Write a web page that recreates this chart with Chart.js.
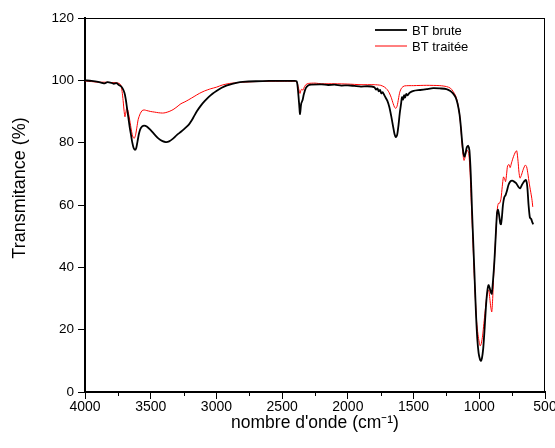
<!DOCTYPE html>
<html>
<head>
<meta charset="utf-8">
<script src="https://cdn.jsdelivr.net/npm/chart.js@4/dist/chart.umd.min.js"></script>
<style>
  html, body { margin: 0; padding: 0; background: #fff; }
  #wrap { width: 555px; height: 448px; }
</style>
</head>
<body>
<div id="wrap"><canvas id="c" width="555" height="448"></canvas></div>
<script>
// ---- data ----
const seriesNames = ["BT brute", "BT traitée"];
const xTitle = "nombre d'onde (cm\u207B\u00B9)";
const yTitle = "Transmitance (%)";

const bruteWn = [4000,3950,3900,3870,3850,3830,3800,3780,3760,3745,3730,3715,3700,3690,3680,3670,3660,3650,3640,3630,3620,3610,3600,3590,3580,3565,3550,3530,3500,3470,3440,3410,3385,3360,3330,3300,3270,3240,3210,3190,3170,3150,3120,3090,3060,3030,3000,2960,2920,2880,2840,2800,2700,2600,2500,2420,2390,2380,2370,2364,2355,2345,2335,2320,2300,2280,2200,2150,2100,2050,2000,1950,1900,1850,1800,1785,1775,1765,1755,1745,1735,1720,1700,1685,1670,1655,1645,1635,1625,1615,1605,1595,1588,1580,1572,1565,1555,1545,1530,1500,1450,1400,1350,1300,1250,1220,1200,1180,1165,1150,1140,1130,1120,1112,1105,1095,1085,1075,1065,1055,1045,1035,1025,1015,1005,995,988,980,970,960,950,940,930,922,912,905,895,885,875,865,858,850,840,835,828,820,810,800,790,778,765,750,735,720,705,690,675,660,645,635,625,615,605,597,590];
const bruteT  = [100.0,99.8,99.5,99.2,99.0,99.4,99.2,98.9,99.1,98.6,98.2,97.5,96.0,94.0,91.0,88.0,85.0,82.5,80.0,78.3,77.7,78.3,80.5,82.8,84.3,85.2,85.5,85.2,84.0,82.6,81.3,80.5,80.2,80.4,81.3,82.5,83.5,84.6,85.8,87.0,88.5,90.0,91.8,93.3,94.6,95.7,96.6,97.6,98.4,98.9,99.3,99.5,99.7,99.8,99.8,99.8,99.7,97.0,92.0,89.2,92.5,93.6,95.5,97.5,98.4,98.6,98.7,98.5,98.6,98.3,98.4,98.2,98.0,98.1,97.8,97.0,97.4,96.5,96.9,95.8,96.2,95.0,93.5,91.5,88.5,85.0,82.8,81.8,82.5,85.5,89.5,92.5,94.6,93.8,95.2,94.5,95.6,95.2,96.0,96.6,96.9,97.2,97.5,97.4,97.2,96.6,95.8,94.5,92.5,89.0,85.0,80.0,76.5,75.5,76.5,78.5,79.0,77.5,70.0,58.0,47.0,36.0,25.0,17.0,12.5,10.5,10.0,10.8,14.0,20.0,27.0,32.0,34.3,33.5,32.0,31.5,36.0,42.0,50.0,57.5,58.5,57.0,54.0,53.8,56.0,60.0,62.5,63.2,64.5,66.4,67.5,67.8,67.5,67.0,66.0,65.3,66.5,67.5,68.0,66.0,60.0,56.0,55.5,54.5,53.8];

const traiteeWn = [4000,3950,3900,3850,3800,3760,3740,3728,3718,3710,3702,3696,3690,3683,3675,3665,3655,3645,3635,3625,3615,3605,3595,3580,3565,3550,3530,3500,3470,3440,3410,3390,3360,3330,3300,3270,3240,3210,3170,3130,3090,3043,3000,2955,2900,2850,2800,2700,2600,2500,2420,2390,2378,2370,2364,2357,2350,2342,2335,2320,2300,2250,2200,2100,2000,1900,1800,1750,1720,1700,1685,1670,1655,1645,1635,1625,1615,1605,1590,1570,1500,1400,1300,1250,1220,1200,1180,1165,1150,1140,1130,1122,1116,1110,1100,1090,1080,1070,1060,1050,1040,1030,1020,1010,1000,993,985,975,965,955,945,935,928,920,912,905,898,890,880,870,862,855,845,835,825,816,808,800,792,785,775,765,755,740,725,715,705,698,690,680,665,650,640,630,620,610,600,593];
const traiteeT  = [99.8,99.6,99.4,99.4,99.3,99.2,99.0,98.5,96.5,93.5,90.0,88.3,89.5,91.0,90.5,88.5,86.0,83.5,81.8,81.4,82.5,85.0,87.5,89.3,90.3,90.5,90.3,90.0,89.8,89.6,89.5,89.6,90.0,90.6,91.5,92.5,93.1,93.8,94.8,95.8,96.6,97.3,97.8,98.5,99.0,99.2,99.4,99.6,99.7,99.7,99.7,99.6,98.0,96.5,95.8,96.8,97.2,96.8,97.5,98.6,99.0,99.1,98.9,98.9,98.8,98.6,98.6,98.4,97.8,97.0,96.0,94.5,92.5,91.4,91.0,91.8,94.0,96.2,97.6,98.2,98.3,98.4,98.3,98.0,97.5,96.5,95.0,92.8,89.0,84.5,79.0,75.5,74.3,75.0,77.0,77.5,76.5,70.5,60.0,50.0,39.0,30.0,22.5,18.5,15.8,14.8,15.5,18.0,22.0,26.0,30.0,32.5,32.7,30.0,27.0,25.7,30.0,38.0,46.0,54.0,59.0,60.5,60.6,62.0,66.0,69.0,68.5,67.5,70.0,72.5,73.0,72.0,73.5,75.5,77.0,77.4,74.0,70.5,68.6,69.5,71.5,72.8,72.3,70.0,67.0,64.5,62.0,59.4];

const xMin = 500, xMax = 4000, xStep = 500, xMinorStep = 250;
const yMin = 0, yMax = 120, yStep = 20;

function pts(xs, ys) { return xs.map((x, i) => ({ x: x, y: ys[i] })); }

const FONT = "'Liberation Sans', Arial, sans-serif";

const frameAndLegend = {
  id: 'frameAndLegend',
  afterDraw(chart) {
    const ctx = chart.ctx;
    const a = chart.chartArea;
    const xs = chart.scales.x;
    ctx.save();
    // top and right frame lines
    ctx.strokeStyle = '#000';
    ctx.lineWidth = 1;
    ctx.beginPath();
    ctx.moveTo(a.left, a.top + 0.5);
    ctx.lineTo(a.right, a.top + 0.5);
    ctx.moveTo(a.right - 0.5, a.top);
    ctx.lineTo(a.right - 0.5, a.bottom);
    ctx.stroke();
    // minor ticks on x axis
    ctx.beginPath();
    for (let v = xMin + xMinorStep; v < xMax; v += xStep) {
      const px = Math.round(xs.getPixelForValue(v)) + 0.5;
      ctx.moveTo(px, a.bottom);
      ctx.lineTo(px, a.bottom + 4);
    }
    ctx.stroke();
    // y axis title (rotated)
    ctx.fillStyle = '#000';
    ctx.font = '18px ' + FONT;
    ctx.textAlign = 'center';
    ctx.textBaseline = 'middle';
    ctx.save();
    ctx.translate(20, 188);
    ctx.rotate(-Math.PI / 2);
    ctx.fillText(yTitle, 0, 0);
    ctx.restore();
    // legend
    const items = chart.data.datasets;
    const lx0 = 375, lx1 = 407, tx = 412;
    const ly = [30, 46];
    ctx.font = '13px ' + FONT;
    ctx.textBaseline = 'middle';
    ctx.textAlign = 'left';
    items.forEach((ds, i) => {
      ctx.strokeStyle = ds.borderColor;
      ctx.lineWidth = ds.borderWidth;
      ctx.beginPath();
      ctx.moveTo(lx0, ly[i]);
      ctx.lineTo(lx1, ly[i]);
      ctx.stroke();
      ctx.fillStyle = '#000';
      ctx.fillText(ds.label, tx, ly[i] + 1);
    });
    ctx.restore();
  }
};

new Chart(document.getElementById('c'), {
  type: 'line',
  data: {
    datasets: [
      { label: seriesNames[0], data: pts(bruteWn, bruteT), borderColor: '#000000', borderWidth: 1.8, pointRadius: 0, tension: 0.25, fill: false },
      { label: seriesNames[1], data: pts(traiteeWn, traiteeT), borderColor: '#ff0000', borderWidth: 1, pointRadius: 0, tension: 0.25, fill: false }
    ]
  },
  options: {
    responsive: false,
    animation: false,
    devicePixelRatio: 1,
    layout: { padding: { left: 0, right: 10, top: 18, bottom: 0 } },
    plugins: { legend: { display: false }, tooltip: { enabled: false } },
    scales: {
      x: {
        type: 'linear', reverse: true, min: xMin, max: xMax,
        border: { display: true, color: '#000', width: 2 },
        grid: { display: true, drawOnChartArea: false, drawTicks: true, tickLength: 7, color: '#000', lineWidth: 1 },
        ticks: { stepSize: xStep, color: '#000', font: { family: FONT, size: 14 }, padding: 0, maxRotation: 0, autoSkip: false,
                 callback: v => String(v) },
        title: { display: true, text: xTitle, color: '#000', font: { family: FONT, size: 17.5 }, padding: { top: 14, bottom: 14 } },
        afterFit: s => { s.height = 56; s.paddingLeft = 0; s.paddingRight = 0; }
      },
      y: {
        min: yMin, max: yMax,
        border: { display: true, color: '#000', width: 2 },
        grid: { display: true, drawOnChartArea: false, drawTicks: true, tickLength: 7, color: '#000', lineWidth: 1 },
        ticks: { stepSize: yStep, color: '#000', font: { family: FONT, size: 13.5 }, padding: 4 },
        title: { display: false },
        afterFit: s => { s.width = 85; s.paddingTop = 0; s.paddingBottom = 0; }
      }
    }
  },
  plugins: [frameAndLegend]
});
</script>
</body>
</html>
